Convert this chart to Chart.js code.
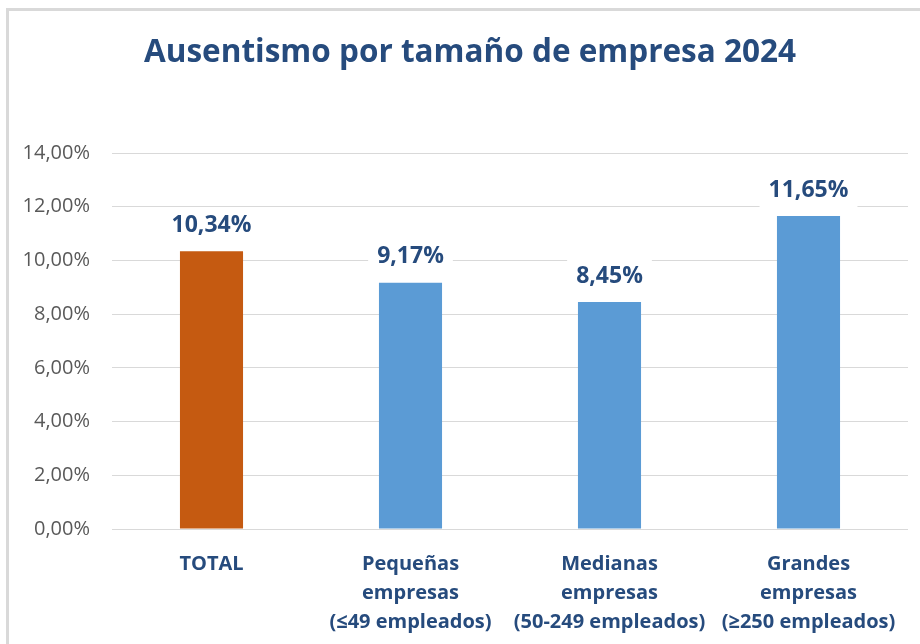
<!DOCTYPE html>
<html>
<head>
<meta charset="utf-8">
<script src="https://cdn.jsdelivr.net/npm/chart.js@4/dist/chart.umd.min.js"></script>
<style>
  html, body { margin: 0; padding: 0; background: #ffffff; }
  #wrap { position: relative; width: 920px; height: 644px; overflow: hidden; }
  #frame { position: absolute; left: 6px; top: 8px; width: 1000px; height: 1000px;
           border-top: 3px solid #d9d9d9; border-left: 3px solid #d9d9d9; box-sizing: border-box; }
  canvas { position: absolute; left: 0; top: 0; }
</style>
</head>
<body>
<div id="wrap">
  <div id="frame"></div>
  <canvas id="c" width="920" height="644"></canvas>
</div>
<script>
const titleText = "Ausentismo por tamaño de empresa 2024";
const categories = [
  ["TOTAL"],
  ["Pequeñas", "empresas", "(≤49 empleados)"],
  ["Medianas", "empresas", "(50-249 empleados)"],
  ["Grandes", "empresas", "(≥250 empleados)"]
];
const values = [10.34, 9.17, 8.45, 11.65];
const barColors = ["#c55a11", "#5b9bd5", "#5b9bd5", "#5b9bd5"];
const yMin = 0, yMax = 14, yStep = 2;

const fmt = v => v.toFixed(2).replace(".", ",") + "%";
const FONT = "'Open Sans', 'Noto Sans', sans-serif";
const DARK = "#264b7d";

const titlePlugin = {
  id: "customTitle",
  afterDraw(chart) {
    const ctx = chart.ctx;
    ctx.save();
    ctx.font = "bold 31.5px " + FONT;
    ctx.fillStyle = DARK;
    ctx.textAlign = "center";
    ctx.textBaseline = "middle";
    ctx.fillText(titleText, 470, 53);
    ctx.restore();
  }
};

const labelPlugin = {
  id: "barLabels",
  afterDatasetsDraw(chart) {
    const ctx = chart.ctx;
    const meta = chart.getDatasetMeta(0);
    ctx.save();
    ctx.font = "bold 23px " + FONT;
    ctx.textAlign = "center";
    ctx.textBaseline = "middle";
    meta.data.forEach((bar, i) => {
      const txt = fmt(values[i]);
      const w = ctx.measureText(txt).width;
      const cy = bar.y - 26;
      ctx.fillStyle = "#ffffff";
      ctx.fillRect(bar.x - w / 2 - 9, cy - 17, w + 18, 34);
      ctx.fillStyle = DARK;
      ctx.fillText(txt, bar.x, cy);
    });
    ctx.restore();
  }
};

new Chart(document.getElementById("c"), {
  type: "bar",
  data: {
    labels: categories,
    datasets: [{
      data: values,
      backgroundColor: barColors,
      borderWidth: 0,
      categoryPercentage: 1,
      barPercentage: 0.317
    }]
  },
  options: {
    responsive: false,
    animation: false,
    devicePixelRatio: 1,
    layout: { padding: { left: 10, right: 12, top: 153, bottom: 0 } },
    plugins: {
      legend: { display: false },
      tooltip: { enabled: false },
      title: { display: false }
    },
    scales: {
      x: {
        grid: { display: false, drawTicks: false },
        border: { display: false },
        ticks: {
          color: DARK,
          font: { family: FONT, size: 20, weight: "bold", lineHeight: 1.45 },
          padding: 21,
          maxRotation: 0,
          autoSkip: false
        },
        afterFit(scale) { scale.height = 115; }
      },
      y: {
        min: yMin, max: yMax,
        grid: { color: "#d9d9d9", lineWidth: 1, drawTicks: false },
        border: { display: false },
        ticks: {
          stepSize: yStep,
          color: "#595959",
          font: { family: FONT, size: 20 },
          padding: 22,
          callback: v => fmt(v)
        },
        afterFit(scale) { scale.width = 102; }
      }
    }
  },
  plugins: [labelPlugin, titlePlugin]
});
</script>
</body>
</html>
